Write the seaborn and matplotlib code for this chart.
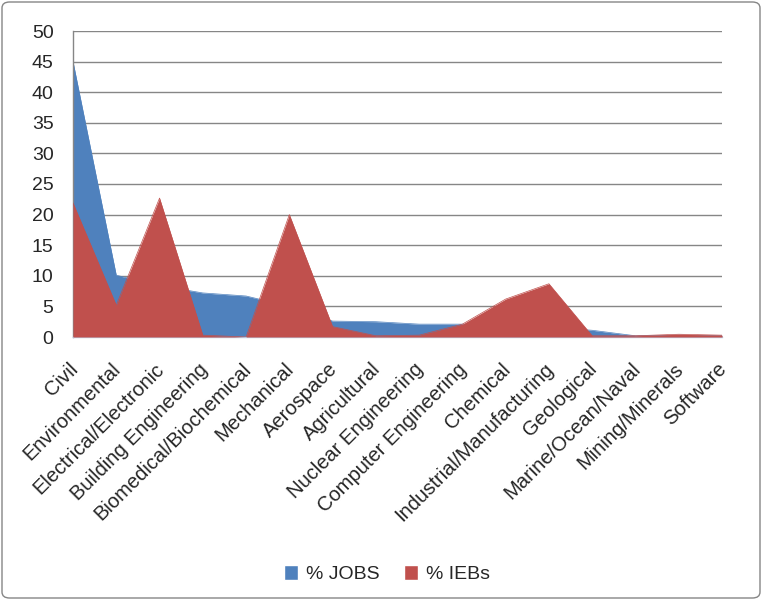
import matplotlib
matplotlib.use("Agg")
import matplotlib.pyplot as plt
import matplotlib.transforms as mtransforms
import seaborn as sns
import pandas as pd
import numpy as np
from matplotlib.patches import Patch, FancyBboxPatch

categories = ["Civil", "Environmental", "Electrical/Electronic", "Building Engineering",
              "Biomedical/Biochemical", "Mechanical", "Aerospace", "Agricultural",
              "Nuclear Engineering", "Computer Engineering", "Chemical",
              "Industrial/Manufacturing", "Geological", "Marine/Ocean/Naval",
              "Mining/Minerals", "Software"]
jobs = [45.0, 10.1, 8.4, 7.2, 6.7, 5.0, 2.6, 2.5, 2.1, 2.1, 1.9, 1.6, 1.1, 0.2, 0.3, 0.2]
iebs = [21.9, 5.2, 22.7, 0.3, 0.0, 20.0, 1.7, 0.2, 0.3, 2.1, 6.2, 8.7, 0.2, 0.2, 0.45, 0.3]
yticks = [0, 5, 10, 15, 20, 25, 30, 35, 40, 45, 50]

blue = "#4F81BD"
red = "#C0504D"

sns.set_theme(style="white")
plt.rcParams["font.family"] = ["Liberation Sans", "DejaVu Sans"]

df = pd.DataFrame({"cat": categories, "jobs": jobs, "iebs": iebs})
df["x"] = np.arange(len(categories))

fig = plt.figure(figsize=(7.62, 6.0), dpi=100)
ax = fig.add_axes([73/762, 1-337/600, (722-73)/762, (337-31)/600])

for y in yticks[1:]:
    ax.axhline(y, color="#868686", lw=1.0, zorder=0)

ax.fill_between(df["x"], 0, df["jobs"], color=blue, lw=0, zorder=2)
ax.fill_between(df["x"], 0, df["iebs"], color=red, lw=0, zorder=3)
sns.lineplot(data=df, x="x", y="jobs", ax=ax, color=blue, lw=0.5, zorder=2)
sns.lineplot(data=df, x="x", y="iebs", ax=ax, color=red, lw=0.5, zorder=3)

ax.set_xlim(0, len(categories) - 1)
ax.set_ylim(0, 50)
ax.set_yticks(yticks)
ax.set_yticklabels([str(v) for v in yticks], fontsize=14)
ax.set_xticks(df["x"])
ax.set_xticklabels(categories, rotation=45, ha="right", rotation_mode="anchor", fontsize=14.5)
ax.tick_params(axis="x", pad=9, length=0)
ax.tick_params(axis="y", pad=14, length=0)
offset = mtransforms.ScaledTranslation(-0.05, -0.10, fig.dpi_scale_trans)
for lab in ax.get_xticklabels():
    lab.set_transform(lab.get_transform() + offset)
ax.set_xlabel("")
ax.set_ylabel("")
for s in ["top", "right"]:
    ax.spines[s].set_visible(False)
ax.spines["left"].set_color("#868686")
ax.spines["left"].set_linewidth(1.0)
ax.spines["bottom"].set_color("#B9CDE5")
ax.spines["bottom"].set_linewidth(1.0)
ax.set_axisbelow(True)

handles = [Patch(facecolor=blue, label="% JOBS"), Patch(facecolor=red, label="% IEBs")]
fig.legend(handles=handles, loc="center", bbox_to_anchor=(387/762, 1-574/600), ncol=2,
           frameon=False, fontsize=14, handlelength=0.7, handleheight=0.8,
           handletextpad=0.4, columnspacing=1.3)

border = FancyBboxPatch((2/762, 2/600), 1-4/762, 1-4/600, boxstyle="round,pad=0,rounding_size=0.01",
                        transform=fig.transFigure, fill=False, edgecolor="#868686", lw=1.0)
fig.patches.append(border)

fig.savefig("out.png", dpi=100)
